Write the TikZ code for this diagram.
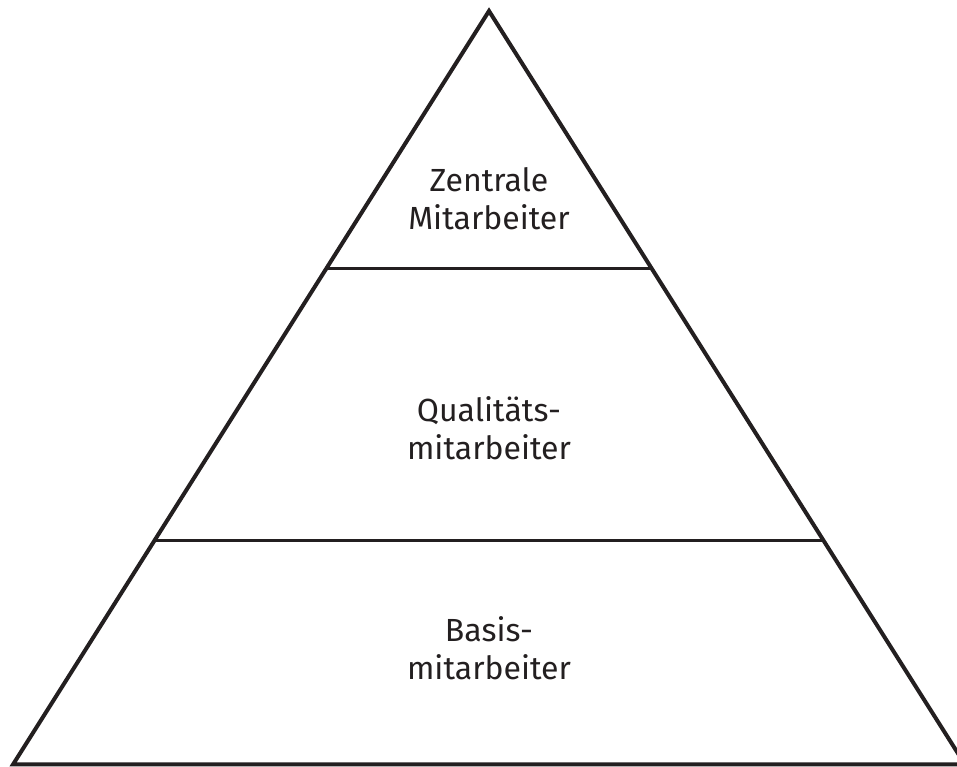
\documentclass[tikz,border=0pt]{standalone}
\usepackage{fontspec}
\setmainfont{Fira Sans}
\usetikzlibrary{calc}
\begin{document}
\begin{tikzpicture}[x=1pt,y=1pt,
  ink/.style={draw=inkcol, line join=miter},
  edge/.style={ink, line width=4pt},
  level/.style={ink, line width=3pt},
  label/.style={text=inkcol, align=center, anchor=south, inner sep=0pt,
    text depth=0pt, font=\fontsize{32}{38}\selectfont}]
\definecolor{inkcol}{HTML}{231F20}
\useasboundingbox (0,0) rectangle (957,767);
% outline of the pyramid
\coordinate (apex) at (489,756);
\coordinate (bl) at (13,2.5);
\coordinate (br) at (965,2.5);
\draw[edge] (bl) -- (apex) -- (br) -- cycle;
% dividing levels
\coordinate (l1l) at ($(apex)!{(756-498.4)/753.5}!(bl)$);
\coordinate (l1r) at ($(apex)!{(756-498.4)/753.5}!(br)$);
\coordinate (l2l) at ($(apex)!{(756-226)/753.5}!(bl)$);
\coordinate (l2r) at ($(apex)!{(756-226)/753.5}!(br)$);
\draw[level] (l1l) -- (l1r);
\draw[level] (l2l) -- (l2r);
% labels
\node[label] (top) at (489,537) {Zentrale\\Mitarbeiter};
\node[label] (mid) at (489,307) {Qualitäts-\\mitarbeiter};
\node[label] (bot) at (489,87) {Basis-\\mitarbeiter};
\end{tikzpicture}
\end{document}
